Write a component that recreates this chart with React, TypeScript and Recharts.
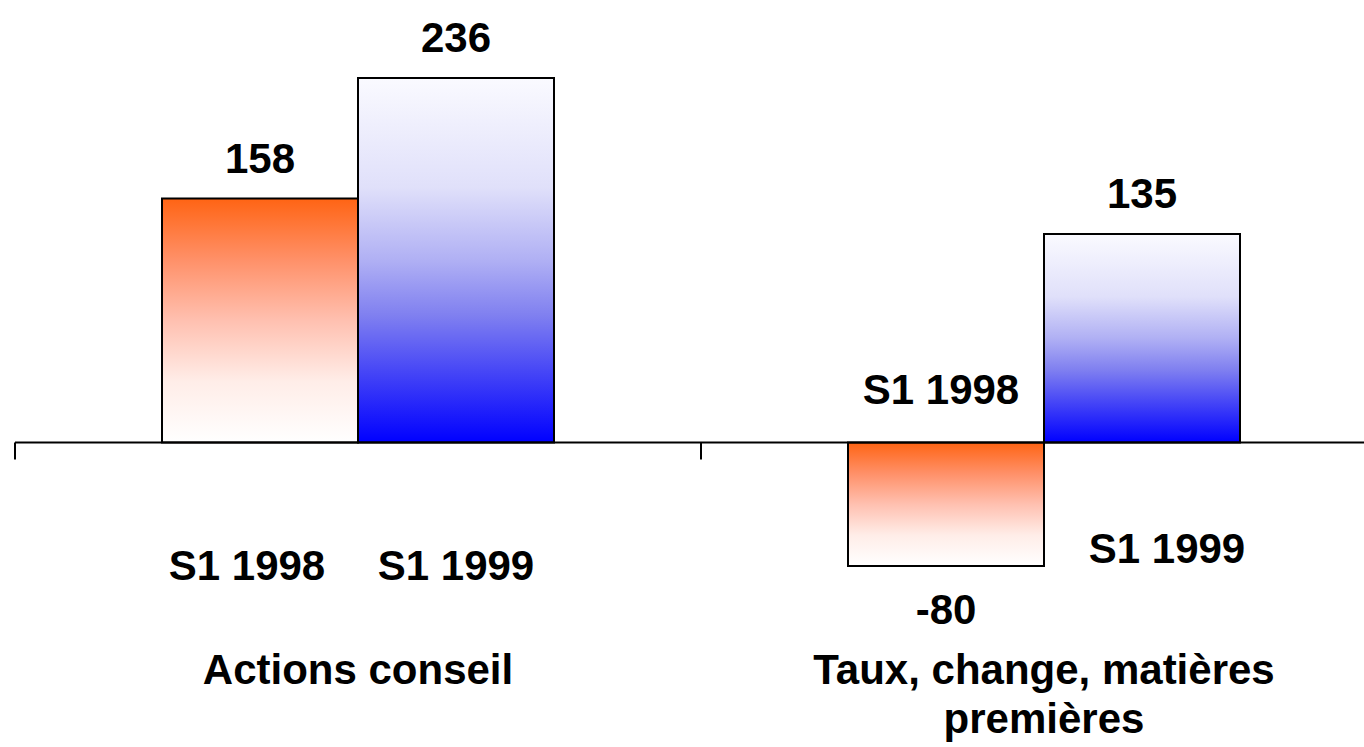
import { BarChart, Bar, XAxis, YAxis, ReferenceLine, LabelList } from "recharts";

const CATEGORIES = ["Actions conseil", "Taux, change, matières premières"];
const SERIES = ["S1 1998", "S1 1999"];
const S1_1998 = [158, -80];
const S1_1999 = [236, 135];

const data = CATEGORIES.map((name, i) => ({ name, s1998: S1_1998[i], s1999: S1_1999[i] }));

// where each series-name text sits, relative to the bar centre and the zero line
const NAME_OFFSETS = [
  [{ dx: -13, dy: 137 }, { dx: -5, dy: -39 }],
  [{ dx: 0, dy: 137 }, { dx: 25, dy: 120 }],
];

const TEXT = {
  fontFamily: "'Liberation Sans', Arial, sans-serif",
  fontWeight: 700,
  fontSize: 42,
  fill: "#000",
};

// greedy word wrap on character count
const wrap = (s: string, max: number) => {
  const lines: string[] = [];
  let cur = "";
  for (const w of s.split(" ")) {
    const next = cur ? cur + " " + w : w;
    if (next.length > max && cur) {
      lines.push(cur);
      cur = w;
    } else cur = next;
  }
  if (cur) lines.push(cur);
  return lines;
};

const rectOf = (props: any) => {
  const v = props.viewBox ?? props;
  const top = Math.min(v.y, v.y + v.height);
  const bottom = Math.max(v.y, v.y + v.height);
  return { cx: v.x + v.width / 2, top, bottom };
};

const ValueLabel = (props: any) => {
  const { cx, top, bottom } = rectOf(props);
  const value = Number(props.value);
  const ty = value >= 0 ? top - 26 : bottom + 58;
  return (
    <text x={cx} y={ty} textAnchor="middle" style={TEXT}>
      {value}
    </text>
  );
};

const nameLabel = (series: number) => (props: any) => {
  const { cx, top, bottom } = rectOf(props);
  const value = Number(props.value);
  const zero = value >= 0 ? bottom : top;
  const off = NAME_OFFSETS[series][props.index ?? 0];
  return (
    <text x={cx + off.dx} y={zero + off.dy} textAnchor="middle" style={TEXT}>
      {SERIES[series]}
    </text>
  );
};

const CategoryTick = ({ x, y, payload }: any) => (
  <text x={x} y={y + 87} textAnchor="middle" style={TEXT}>
    {wrap(payload.value, 24).map((line, i) => (
      <tspan key={i} x={x} dy={i === 0 ? 0 : 49}>
        {line}
      </tspan>
    ))}
  </text>
);

// zero line with ticks at the category boundaries
const ZeroAxis = ({ x1, y1, x2, y2 }: any) => {
  const mid = (x1 + x2) / 2;
  return (
    <g>
      <line x1={x1} y1={y1} x2={x2} y2={y2} stroke="#000" strokeWidth={2} />
      {[x1, mid, x2].map((x) => (
        <line key={x} x1={x} x2={x} y1={y1} y2={y1 + 17} stroke="#000" strokeWidth={2} />
      ))}
    </g>
  );
};

export default function App() {
  return (
    <div style={{ position: "fixed", left: 0, top: 0, width: 1364, height: 747, overflow: "hidden", background: "#fff" }}>
      <BarChart
        width={1400}
        height={747}
        data={data}
        margin={{ top: 41, right: 13, bottom: 0, left: 15 }}
        barGap={0}
      >
        <defs>
          <linearGradient id="gOrange" x1="0" y1="0" x2="0" y2="1">
            <stop offset="0" stopColor="#FF6414" />
            <stop offset="0.25" stopColor="#FF9068" />
            <stop offset="0.5" stopColor="#FFC0B0" />
            <stop offset="0.75" stopColor="#FFEDE8" />
            <stop offset="1" stopColor="#FFFFFF" />
          </linearGradient>
          <linearGradient id="gBlue" x1="0" y1="0" x2="0" y2="1">
            <stop offset="0" stopColor="#FAFAFF" />
            <stop offset="0.3" stopColor="#E0E0FA" />
            <stop offset="0.5" stopColor="#B0B0F4" />
            <stop offset="0.65" stopColor="#8080F0" />
            <stop offset="0.8" stopColor="#4848F6" />
            <stop offset="1" stopColor="#0000FF" />
          </linearGradient>
        </defs>
        <XAxis
          dataKey="name"
          height={150}
          axisLine={false}
          tickLine={false}
          tickSize={0}
          tickMargin={0}
          interval={0}
          tick={<CategoryTick />}
        />
        <YAxis hide domain={[-100, 260]} />
        <Bar dataKey="s1998" fill="url(#gOrange)" stroke="#000" strokeWidth={2} barSize={196} isAnimationActive={false}>
          <LabelList dataKey="s1998" content={ValueLabel} />
          <LabelList dataKey="s1998" content={nameLabel(0)} />
        </Bar>
        <Bar dataKey="s1999" fill="url(#gBlue)" stroke="#000" strokeWidth={2} barSize={196} isAnimationActive={false}>
          <LabelList dataKey="s1999" content={ValueLabel} />
          <LabelList dataKey="s1999" content={nameLabel(1)} />
        </Bar>
        <ReferenceLine y={0} shape={<ZeroAxis />} />
      </BarChart>
    </div>
  );
}
